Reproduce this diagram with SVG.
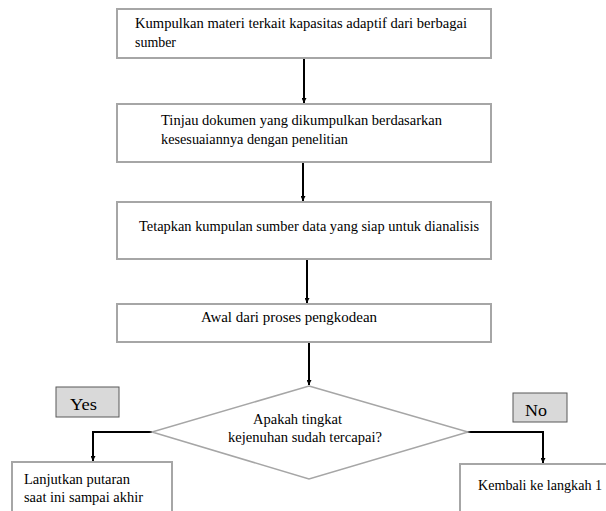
<svg xmlns="http://www.w3.org/2000/svg" width="606" height="511" viewBox="0 0 606 511">
<defs>
<style>
.box{fill:#fff;stroke:#a6a6a6;stroke-width:2}
.lbl{fill:#d9d9d9;stroke:#595959;stroke-width:1}
.c{fill:none;stroke:#000;stroke-width:2}
</style>
<marker id="ah" viewBox="0 0 10 10" refX="10" refY="5" markerWidth="5" markerHeight="5" markerUnits="userSpaceOnUse" orient="auto">
<path d="M0,0 L10,5 L0,10 z" fill="#000"/>
</marker>
</defs>
<rect width="606" height="511" fill="#fff"/>
<g id="connectors">
<line class="c" x1="304" y1="59" x2="304" y2="103" marker-end="url(#ah)"/>
<line class="c" x1="303" y1="163" x2="303" y2="201" marker-end="url(#ah)"/>
<line class="c" x1="307" y1="260" x2="307" y2="303" marker-end="url(#ah)"/>
<line class="c" x1="309" y1="342" x2="309" y2="385" marker-end="url(#ah)"/>
<polyline class="c" points="152,432 93,432 93,461" marker-end="url(#ah)"/>
<polyline class="c" points="467,432 543,432 543,463" marker-end="url(#ah)"/>
</g>
<g font-family="Liberation Serif, Times New Roman, DejaVu Serif, serif" font-size="14" fill="#000">
<g id="n1"><rect class="box" x="117" y="9" width="374" height="49"/>
<text x="135" y="28" textLength="332" lengthAdjust="spacingAndGlyphs">Kumpulkan materi terkait kapasitas adaptif dari berbagai</text>
<text x="135" y="47" textLength="41" lengthAdjust="spacingAndGlyphs">sumber</text></g>
<g id="n2"><rect class="box" x="117" y="104" width="374" height="58"/>
<text x="161" y="125" textLength="281" lengthAdjust="spacingAndGlyphs">Tinjau dokumen yang dikumpulkan berdasarkan</text>
<text x="161" y="144" textLength="187" lengthAdjust="spacingAndGlyphs">kesesuaiannya dengan penelitian</text></g>
<g id="n3"><rect class="box" x="117" y="202" width="374" height="57"/>
<text x="139" y="231" textLength="340" lengthAdjust="spacingAndGlyphs">Tetapkan kumpulan sumber data yang siap untuk dianalisis</text></g>
<g id="n4"><rect class="box" x="117" y="304" width="374" height="38"/>
<text x="201" y="322" textLength="176" lengthAdjust="spacingAndGlyphs">Awal dari proses pengkodean</text></g>
<g id="n5"><polygon points="309,386 468,432 309,479 152,432" fill="#fff" stroke="#a6a6a6" stroke-width="1.5"/>
<text x="253" y="424" textLength="89" lengthAdjust="spacingAndGlyphs">Apakah tingkat</text>
<text x="228" y="442" textLength="154" lengthAdjust="spacingAndGlyphs">kejenuhan sudah tercapai?</text></g>
<g id="yes"><rect class="lbl" x="56" y="387" width="63" height="30"/>
<text x="70" y="410" font-size="17" textLength="27" lengthAdjust="spacingAndGlyphs">Yes</text></g>
<g id="no"><rect class="lbl" x="513" y="393" width="54" height="29"/>
<text x="525" y="416" font-size="17" textLength="22" lengthAdjust="spacingAndGlyphs">No</text></g>
<g id="n6"><rect class="box" x="12" y="462" width="160" height="60"/>
<text x="24" y="484" textLength="106" lengthAdjust="spacingAndGlyphs">Lanjutkan putaran</text>
<text x="24" y="502" textLength="119" lengthAdjust="spacingAndGlyphs">saat ini sampai akhir</text></g>
<g id="n7"><rect class="box" x="460" y="464" width="160" height="60"/>
<text x="478" y="490" textLength="124" lengthAdjust="spacingAndGlyphs">Kembali ke langkah 1</text></g>
</g>
</svg>
